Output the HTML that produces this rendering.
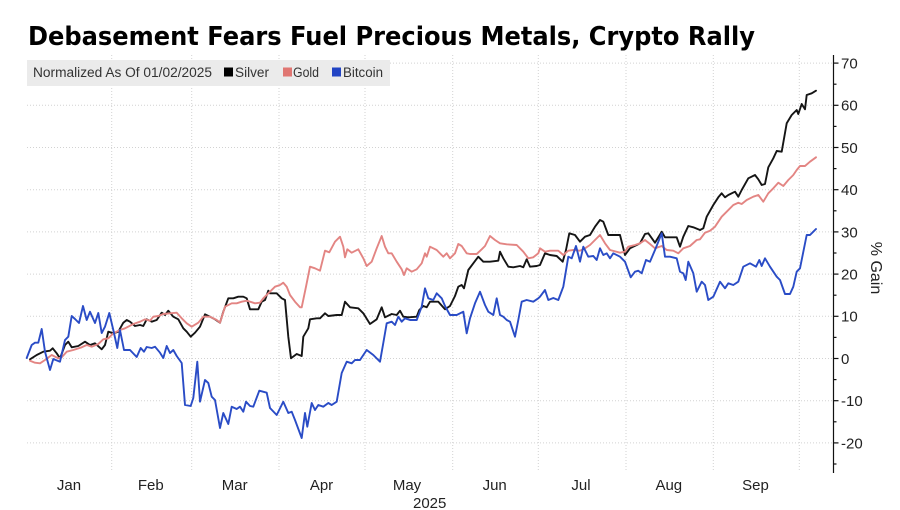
<!DOCTYPE html>
<html><head><meta charset="utf-8"><style>
html,body{margin:0;padding:0;background:#fff;}
svg{display:block;}
text{font-family:"Liberation Sans",sans-serif;}
</style></head><body>
<svg width="900" height="510" viewBox="0 0 900 510" xmlns="http://www.w3.org/2000/svg">
<rect width="900" height="510" fill="#fff"/>
<!-- title -->
<text x="28" y="45" font-size="26" font-weight="bold" fill="#000" style="font-family:'DejaVu Sans','Liberation Sans',sans-serif" textLength="727" lengthAdjust="spacingAndGlyphs">Debasement Fears Fuel Precious Metals, Crypto Rally</text>
<!-- gridlines -->
<g stroke="#d2d2d2" stroke-width="1" stroke-dasharray="1,2" fill="none">
<line x1="27" x2="833" y1="63.1" y2="63.1"/>
<line x1="27" x2="833" y1="105.3" y2="105.3"/>
<line x1="27" x2="833" y1="147.5" y2="147.5"/>
<line x1="27" x2="833" y1="189.7" y2="189.7"/>
<line x1="27" x2="833" y1="231.9" y2="231.9"/>
<line x1="27" x2="833" y1="274.1" y2="274.1"/>
<line x1="27" x2="833" y1="316.3" y2="316.3"/>
<line x1="27" x2="833" y1="358.5" y2="358.5"/>
<line x1="27" x2="833" y1="400.7" y2="400.7"/>
<line x1="27" x2="833" y1="442.9" y2="442.9"/>
<line x1="111.7" x2="111.7" y1="55" y2="471"/>
<line x1="191.7" x2="191.7" y1="55" y2="471"/>
<line x1="279" x2="279" y1="55" y2="471"/>
<line x1="365" x2="365" y1="55" y2="471"/>
<line x1="452.7" x2="452.7" y1="55" y2="471"/>
<line x1="538.3" x2="538.3" y1="55" y2="471"/>
<line x1="626" x2="626" y1="55" y2="471"/>
<line x1="713.3" x2="713.3" y1="55" y2="471"/>
<line x1="799.3" x2="799.3" y1="55" y2="471"/>
</g>
<!-- legend -->
<rect x="27" y="60" width="363" height="26" fill="#ebebeb"/>
<text x="33" y="77" font-size="13.5" fill="#333" textLength="179" lengthAdjust="spacingAndGlyphs">Normalized As Of 01/02/2025</text>
<rect x="224" y="67.5" width="9" height="9" fill="#000"/>
<text x="235" y="77" font-size="13.5" fill="#333" textLength="34" lengthAdjust="spacingAndGlyphs">Silver</text>
<rect x="283" y="67.5" width="9" height="9" fill="#e07672"/>
<text x="293" y="77" font-size="13.5" fill="#333" textLength="26" lengthAdjust="spacingAndGlyphs">Gold</text>
<rect x="332" y="67.5" width="9" height="9" fill="#2244c4"/>
<text x="343" y="77" font-size="13.5" fill="#333" textLength="40" lengthAdjust="spacingAndGlyphs">Bitcoin</text>
<!-- series -->
<g fill="none" stroke-width="1.9" stroke-linejoin="round" stroke-linecap="round">
<polyline stroke="#151515" points="30,359.3 36.7,355 43.3,351.7 50,350.7 52.7,348.3 56.7,353.3 60,358.3 65,345 68.3,341.7 71.7,347.3 78.3,346 85,341.7 90,345 95,343.3 101.7,349.3 105,345 108.3,331.7 113.3,333.3 118.3,331.7 123.3,322.7 126.7,320 130,321.7 135,326 140,325 143.3,326 146.7,319.3 151.7,321.7 156.7,320 161.7,312.7 165,315 168.3,310.7 173.3,316.7 178.3,319.3 183.3,328.3 186.7,331.7 190.7,336.7 195,332.7 200,326.7 205,314.3 210,316.7 215,319.3 220,322.7 223.3,311.7 228.3,298.3 233.3,298.3 238.3,296.7 243.3,296.7 246.7,298.3 250,309.3 253.3,309.3 258.3,309.3 261.7,301.7 265,300 268.3,290.7 270,293.3 276.7,293.3 281.7,298.3 285,300 288.3,336.7 291,358.3 296.7,354 301.7,356 303.3,336.7 308.3,328.3 310,319.3 316.7,318.3 320,318.3 325,313.3 328.3,316 336.7,315 341.7,315 345,301.7 350,307.3 358.3,308.3 363.3,313.3 370,324 376.7,319.3 381.7,307.3 385,317.3 391.7,314 396.7,315 400,310.7 403.3,316.7 408.3,317.3 416.7,316.7 419.3,310 423.3,306 426.7,307.3 430,301.7 438.3,301.7 445,309.3 450,306 455,296 458.3,286.7 461.7,285 464,288.3 468.3,270 473.3,263.3 478.3,256.7 483.3,261.7 490,261.7 498.3,260.7 500,251.7 503.3,258.3 508.3,266.7 513.3,267.3 520,266 523.3,267.3 526.7,259.3 530,266.7 536.7,266 540,265 545,253.3 550,255 556.7,256 562.7,261.7 566,250 569.3,233.3 575,235 580,241.7 585,236.7 590,235 595,226.7 600,220 603.3,221.7 608.3,235 615,235 620,235 625,255 630,248.3 636.7,245 640,243.3 645,234 648.3,233.3 655,242.7 661.7,231.7 665,237.3 671.7,237.3 676.7,237.3 680,246.7 683.3,236.7 688.3,226 693.3,227.3 700,230 703.3,228.3 706.7,216.7 713.3,205 718.3,197.3 721.7,193.3 725,197.3 728.3,195 735,191.7 738.3,196.7 741.7,190 748.3,178.3 755,175 758.3,179.3 761.7,185 765,184 768.3,167.3 773.3,158.3 776.7,151 781.7,151.7 786.7,123.3 791.7,115 796.7,110 798.3,114 801.7,104 805,109.3 806.7,95 811.7,93.3 816,90.7"/>
<polyline stroke="#e38583" points="30,360.7 35,362.7 40,363.3 45,360 51.7,355 58.3,358.3 61.7,357.3 66.7,351.7 73.3,350 81.7,347.3 86.7,345 91.7,346.7 98.3,344 103.3,339.3 108.3,338.3 113.3,333.3 120,330 125,328.3 133.3,324 140,321.7 145,319.3 150,320.7 153.3,316.7 158.3,316 163.3,314 170,313.3 176.7,312.7 181.7,318.3 186.7,323.3 191.7,326.7 198.3,322.7 203.3,316.7 210,316.7 216.7,320 220,322.7 225,306.7 231.7,303.3 236.7,303.3 241.7,301.7 246.7,300.7 250,301.7 255,303.3 260,302.7 263.3,298.3 268.3,293.3 270,291.7 275,286.7 280,285 283.3,282.7 286.7,286.7 290,295 295,301.7 300,307.3 301.7,307.3 306,286.7 310,266.7 315,268.3 320,270.7 325,250.7 329.3,252.3 335,241.7 340,236.7 343.3,246.7 345,257.3 347.3,249.3 351.7,252.7 358.3,249.3 363.3,258.3 366.7,266 371.7,261.7 376.7,248.3 381.7,236 385,246.7 388.3,253.3 391.7,253.3 396.7,261.7 401.7,269.3 404,275 406.7,268.3 411.7,271.7 416.7,269.3 421.7,263.3 425,253.3 426.7,256.7 430,246.7 436.7,250 443.3,256.7 446.7,253.3 450,258.3 455,253.3 458.3,244 461.7,246 466.7,253.3 470,254 476.7,254 481.7,249.3 485,246 490,236 495,240 500,243.3 506.7,244.3 516.7,245 523.3,251.7 528.3,258.3 533.3,257.3 538.3,253.3 540,248.3 545,251.7 550,250.7 558.3,250.7 563.3,255 568.3,250.7 573.3,250 580,250.7 585,248.3 590,245 595,240 600,235 605,243.3 610,250 620,252.7 625,251.7 628.3,246.7 635,245 640,243.3 645,240 650,244 655,248.3 661.7,246 666.7,250 673.3,250.7 678.3,253.3 683.3,248.3 690,246 696.7,240 700,239.3 705,232.7 710,230.7 715,226.7 721.7,216.7 726.7,211.7 733.3,205 738.3,202.7 741.7,204 746.7,200 753.3,196.7 758.3,195 763.3,201.7 768.3,193.3 773.3,188.3 778.3,182.7 783.3,186 788.3,180 793.3,175 796.7,170 800,166 805,166 810,161.7 816,157.3"/>
<polyline stroke="#2a4cc6" points="26.7,358 31.7,345 35,342.7 38.3,342.7 41.7,329 45,351.7 50,370 53.3,359 60,361.7 65,340 68.3,336.7 71.7,316 75,319 79,323 83,306 86.7,320 90,311.7 95,323 98.3,313 101.7,333 105,326.7 109.3,313 113.3,330 117.3,348 120,330 124,350 130,350 136.7,357 140.7,348 144,351.7 146.7,347 151.7,348 155,346.7 160,352.7 163.3,358 166.7,346 170,353 173.3,350 176.7,356 181.7,363 185,405 190.7,406 193.3,398 197.3,361.7 200,401.7 205,380 208.3,383 211.7,396.7 215,400 220,428 223.3,413 228.3,424 231.7,406.7 236.7,409 240,406.7 243.3,411.7 246,401.7 250,406 253.3,406.7 259.3,390.7 266.7,392.7 270,408 276.7,415 283.3,401.7 288.3,413 291.7,411.7 295,420 301.7,438 305,413 307.3,426.7 311.7,403 315,410 318.3,405 323.3,406.7 328.3,403 331.7,405 336.7,401.7 341.7,373 346.7,361.7 351.7,363.3 355,360 360,360 366.7,350 373.3,355 380,361.7 383.3,343 386.7,323.3 391.7,321.7 395,325 398.3,316.7 401.7,321.7 405,318.3 410,320 416.7,320 421.7,306.7 425,288.3 428.3,298.3 433.3,300 436.7,293.3 441.7,298.3 445,306 450,315 456.7,315 463.3,311.7 466.7,333.3 470,318.3 475,303.3 480,291.7 485,305 488.3,311.7 493.3,315 496.7,298.3 500,315 503.3,316.7 506.7,320 510,321.7 515,336.7 518.3,320 521.7,301.7 526.7,300 533.3,301.7 538.3,298.3 540,296.7 545,290 548.3,300 553.3,298 558.3,300 563.3,286.7 568.3,256.7 571.7,258.3 576,246 580,261.7 583.3,246.7 588.3,256.7 593.3,256 596.7,260 600,248.3 603.3,255 606.7,253.3 610,258.3 613.3,253.3 620,256.7 625,261.7 630.7,277.3 635,271.7 638.3,270.7 641.7,273.3 646,260 650,261.7 655,250 661.7,233.3 665,256.7 670,256.7 676.7,258.3 680,271.7 683.3,273.3 685.7,280 688.3,261.7 693.3,273.3 696.7,291.7 701.7,281.7 705,285 708.3,300 713.3,296.7 720,281.7 725,288.3 728.3,283.3 733.3,285 738.3,281.7 743.3,266.7 750,263.3 756,266.7 759.3,260 761.7,266 765,258.3 770,266.7 776.7,276.7 780,280 785,294 790,294 793.3,286.7 796.7,271.7 800,268.3 806.7,235 810,235 813.3,231.7 816,229"/>
</g>
<!-- right axis -->
<g stroke="#111" stroke-width="1.2">
<line x1="833.5" x2="833.5" y1="55" y2="473"/>
<line x1="833.5" x2="838.5" y1="63.1" y2="63.1"/>
<line x1="833.5" x2="838.5" y1="105.3" y2="105.3"/>
<line x1="833.5" x2="838.5" y1="147.5" y2="147.5"/>
<line x1="833.5" x2="838.5" y1="189.7" y2="189.7"/>
<line x1="833.5" x2="838.5" y1="231.9" y2="231.9"/>
<line x1="833.5" x2="838.5" y1="274.1" y2="274.1"/>
<line x1="833.5" x2="838.5" y1="316.3" y2="316.3"/>
<line x1="833.5" x2="838.5" y1="358.5" y2="358.5"/>
<line x1="833.5" x2="838.5" y1="400.7" y2="400.7"/>
<line x1="833.5" x2="838.5" y1="442.9" y2="442.9"/>
<line x1="833.5" x2="836.5" y1="84.2" y2="84.2"/>
<line x1="833.5" x2="836.5" y1="126.4" y2="126.4"/>
<line x1="833.5" x2="836.5" y1="168.6" y2="168.6"/>
<line x1="833.5" x2="836.5" y1="210.8" y2="210.8"/>
<line x1="833.5" x2="836.5" y1="253" y2="253"/>
<line x1="833.5" x2="836.5" y1="295.2" y2="295.2"/>
<line x1="833.5" x2="836.5" y1="337.4" y2="337.4"/>
<line x1="833.5" x2="836.5" y1="379.6" y2="379.6"/>
<line x1="833.5" x2="836.5" y1="421.8" y2="421.8"/>
<line x1="833.5" x2="836.5" y1="464" y2="464"/>
</g>
<g font-size="15" fill="#222">
<text x="841" y="68.5">70</text>
<text x="841" y="110.7">60</text>
<text x="841" y="152.9">50</text>
<text x="841" y="195.1">40</text>
<text x="841" y="237.3">30</text>
<text x="841" y="279.5">20</text>
<text x="841" y="321.7">10</text>
<text x="841" y="363.9">0</text>
<text x="841" y="406.1">-10</text>
<text x="841" y="448.3">-20</text>
</g>
<text transform="translate(871,268) rotate(90)" font-size="16" fill="#222" text-anchor="middle">% Gain</text>
<!-- x labels -->
<g font-size="15" fill="#222" text-anchor="middle">
<text x="69" y="490">Jan</text>
<text x="150.8" y="490">Feb</text>
<text x="234.7" y="490">Mar</text>
<text x="321.5" y="490">Apr</text>
<text x="407" y="490">May</text>
<text x="494.7" y="490">Jun</text>
<text x="581" y="490">Jul</text>
<text x="668.8" y="490">Aug</text>
<text x="755.5" y="490">Sep</text>
<text x="429.7" y="508">2025</text>
</g>
</svg>
</body></html>
